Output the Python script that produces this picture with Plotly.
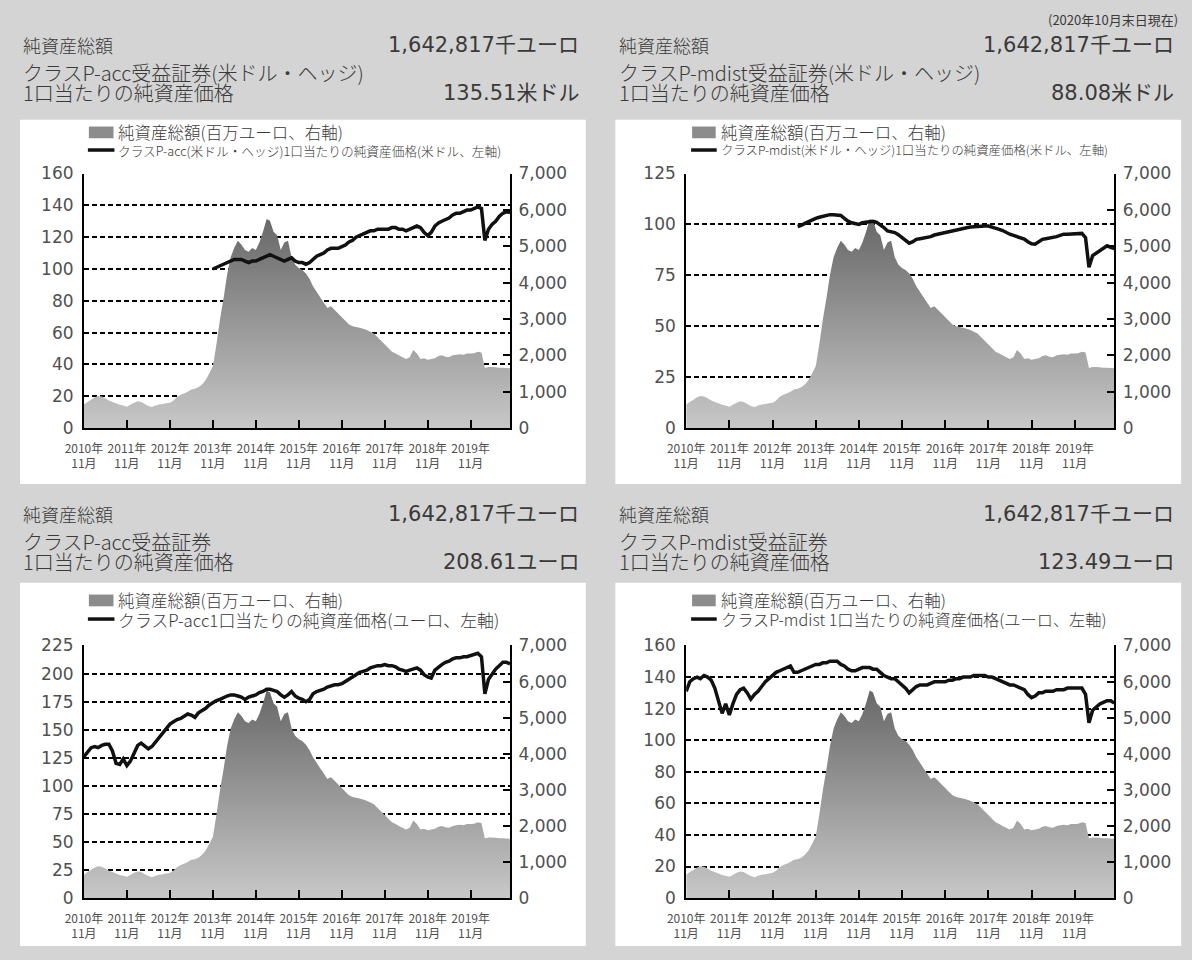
import plotly.graph_objects as go

W, H = 1192, 960

# ---------------- data ----------------
# monthly dates, Nov 2010 .. Oct 2020
months = []
_y, _m = 2010, 11
for _ in range(120):
    months.append(f"{_y}-{_m:02d}-01")
    _m += 1
    if _m > 12:
        _m = 1
        _y += 1

tick_years = [2010, 2011, 2012, 2013, 2014, 2015, 2016, 2017, 2018, 2019]
tick_vals = [f"{yr}-11-01" for yr in tick_years]
tick_text = [f"{yr}年<br>11月" for yr in tick_years]

# total net assets (million EUR, right axis) Nov 2010 .. Oct 2020
aum = (
    [650, 720]
    + [780, 850, 880, 870, 820, 760, 720, 680, 640, 620, 590, 640]          # 2011
    + [700, 740, 720, 660, 610, 580, 620, 650, 660, 680, 700, 760]          # 2012
    + [860, 920, 950, 1000, 1060, 1080, 1120, 1200, 1320, 1500, 1700, 2300]  # 2013
    + [3000, 3600, 4200, 4700, 4950, 5150, 5050, 4900, 4850, 4950, 4900, 5100]  # 2014
    + [5400, 5750, 5700, 5400, 5300, 4900, 5100, 5150, 4700, 4500, 4400, 4350]  # 2015
    + [4250, 4100, 3900, 3750, 3600, 3450, 3300, 3350, 3250, 3150, 3050, 2950]  # 2016
    + [2850, 2800, 2780, 2760, 2730, 2700, 2650, 2600, 2500, 2400, 2300, 2200]  # 2017
    + [2100, 2050, 2000, 1950, 1900, 1950, 2150, 2050, 1900, 1920, 1880, 1900]  # 2018
    + [1920, 1980, 2000, 1960, 1950, 2000, 2020, 2030, 2020, 2050, 2050, 2060]  # 2019
    + [2100, 2080, 1650, 1680, 1680, 1670, 1660, 1660, 1650, 1643]              # 2020
)

# Class P-acc (USD hedged) NAV per unit, from Nov 2013
nav_acc_usd = (
    [None] * 36
    + [100, 101]
    + [102, 103, 104, 105, 106, 106, 106, 105, 104, 105, 105, 106]   # 2014
    + [107, 108, 109, 108, 107, 106, 105, 106, 107, 105, 104, 104]   # 2015
    + [103, 104, 106, 108, 109, 110, 112, 113, 113, 113, 114, 115]   # 2016
    + [117, 118, 120, 121, 122, 123, 124, 124, 125, 125, 125, 125]   # 2017
    + [126, 126, 125, 125, 124, 125, 126, 127, 126, 123, 121, 123]   # 2018
    + [127, 129, 130, 131, 132, 134, 135, 135, 136, 137, 137, 138]   # 2019
    + [139, 138, 118, 125, 128, 130, 133, 135, 136, 135.51]          # 2020
)

# Class P-mdist (USD hedged) NAV per unit, from Jun 2013
nav_mdist_usd = (
    [None] * 31
    + [99, 99.5, 100.5, 101.5, 102.4, 103, 103.5]                                      # 2013
    + [104, 104.4, 104.8, 104.8, 104.6, 104.4, 103, 101.6, 100.8, 100.3, 100, 100.8]   # 2014
    + [101, 101.6, 101.5, 101, 100, 98.5, 96.8, 96.5, 96, 95, 93.5, 92]                # 2015
    + [90.8, 91.5, 92.7, 93, 93.3, 93.5, 94, 94.8, 95.2, 95.8, 96.3, 96.8]             # 2016
    + [97, 97.3, 97.6, 98, 98.4, 98.7, 98.9, 99, 99.1, 99.2, 99.2, 98.8]               # 2017
    + [98.3, 97.6, 97, 96, 95.2, 94.6, 94, 93.5, 92.8, 91.5, 90.5, 90.3]               # 2018
    + [91.5, 92.7, 93, 93.3, 93.5, 94, 94.6, 95.2, 95.2, 95.2, 95.2, 95.4]             # 2019
    + [95.6, 93.5, 79, 84.7, 86, 87, 88.5, 89.5, 88.7, 88.08]                          # 2020
)

# Class P-acc (EUR) NAV per unit
nav_acc_eur = (
    [126, 130]
    + [134, 135, 134, 136, 137, 137, 131, 120, 119, 124, 118, 122]   # 2011
    + [130, 136, 138, 135, 133, 135, 139, 143, 147, 151, 155, 157]   # 2012
    + [159, 160, 162, 164, 163, 161, 165, 167, 169, 172, 174, 176]   # 2013
    + [177, 179, 180, 181, 181, 180, 179, 177, 179, 180, 181, 183]   # 2014
    + [184, 186, 186, 185, 184, 181, 179, 181, 184, 180, 178, 177]   # 2015
    + [175, 177, 182, 184, 185, 186, 188, 189, 190, 190, 191, 193]   # 2016
    + [195, 197, 199, 201, 202, 203, 205, 206, 207, 207, 208, 207]   # 2017
    + [207, 206, 204, 203, 202, 203, 204, 205, 203, 199, 197, 196]   # 2018
    + [203, 206, 208, 210, 211, 213, 214, 214, 215, 215, 216, 217]   # 2019
    + [218, 215, 182, 195, 200, 204, 207, 210, 210, 208.61]          # 2020
)

# Class P-mdist (EUR) NAV per unit
nav_mdist_eur = (
    [131, 137]
    + [139, 140, 139, 141, 140, 138, 133, 124, 117, 123, 116, 123]   # 2011
    + [129, 132, 133, 130, 126, 129, 131, 134, 137, 139, 141, 143]   # 2012
    + [144, 145, 146, 147, 143, 143, 144, 145, 146, 147, 148, 148]   # 2013
    + [149, 149, 150, 150, 150, 148, 147, 145, 144, 144, 145, 146]   # 2014
    + [146, 146, 145, 145, 143, 141, 140, 139, 139, 137, 135, 133]   # 2015
    + [130, 132, 134, 135, 135, 135, 136, 137, 137, 137, 137, 138]   # 2016
    + [138, 139, 139, 140, 140, 140, 141, 141, 141, 141, 140, 140]   # 2017
    + [139, 138, 137, 136, 135, 135, 134, 133, 132, 129, 127, 128]   # 2018
    + [130, 130, 131, 131, 131, 132, 132, 132, 133, 133, 133, 133]   # 2019
    + [133, 129, 111, 119, 121, 123, 124, 125, 125, 123.49]          # 2020
)

aum_total_text = "1,642,817千ユーロ"
date_note = "(2020年10月末日現在)"
class_titles = ["クラスP-acc受益証券(米ドル・ヘッジ)", "クラスP-mdist受益証券(米ドル・ヘッジ)",
                "クラスP-acc受益証券", "クラスP-mdist受益証券"]
nav_texts = ["135.51米ドル", "88.08米ドル", "208.61ユーロ", "123.49ユーロ"]
legend_area = "純資産総額(百万ユーロ、右軸)"
legend_lines = ["クラスP-acc(米ドル・ヘッジ)1口当たりの純資産価格(米ドル、左軸)",
                "クラスP-mdist(米ドル・ヘッジ)1口当たりの純資産価格(米ドル、左軸)",
                "クラスP-acc1口当たりの純資産価格(ユーロ、左軸)",
                "クラスP-mdist 1口当たりの純資産価格(ユーロ、左軸)"]
left_ranges = [(160, 20), (125, 25), (225, 25), (160, 20)]
navs = [nav_acc_usd, nav_mdist_usd, nav_acc_eur, nav_mdist_eur]

# ---------------- layout geometry (pixels) ----------------
JP = "Noto Sans CJK JP"
NUMF = "DejaVu Sans, Noto Sans CJK JP"
TXT = "#3a3a3a"
TICKC = "#505050"

geo = [
    dict(box=(1, 112, 576, 484), plot=(66, 167, 499, 427), hx=(3, 570), hy=(36, 64, 84),
         lx=(71, 96, 100), ly=(125, 143), l2size=12.7),
    dict(box=(606, 112, 1181, 484), plot=(678, 167, 1113, 427), hx=(609, 1175), hy=(36, 64, 84),
         lx=(684, 708, 712), ly=(125, 143), l2size=12.4),
    dict(box=(1, 585, 576, 956), plot=(66, 649, 499, 907), hx=(3, 570), hy=(515, 543, 563),
         lx=(71, 96, 100), ly=(603, 622), l2size=16.9),
    dict(box=(606, 585, 1181, 956), plot=(678, 649, 1113, 907), hx=(609, 1175), hy=(515, 543, 563),
         lx=(684, 708, 712), ly=(603, 622), l2size=16.2),
]


def fx(px):
    return px / W


def fy(py):
    return 1 - py / H


fig = go.Figure()
shapes = []
annotations = []
layout_axes = {}

for i, g in enumerate(geo):
    xid = "x" if i == 0 else f"x{i + 1}"
    ya_n = 2 * i + 1
    yl_n = 2 * i + 2
    ya_id = "y" if ya_n == 1 else f"y{ya_n}"
    yl_id = f"y{yl_n}"

    fig.add_trace(go.Scatter(
        x=months, y=aum, xaxis=xid, yaxis=ya_id, mode="none", fill="tozeroy",
        fillgradient=dict(type="vertical", start=0, stop=5900,
                          colorscale=[[0, "#cacaca"], [1, "#666666"]]),
        showlegend=False, hoverinfo="skip"))
    fig.add_trace(go.Scatter(
        x=months, y=navs[i], xaxis=xid, yaxis=yl_id, mode="lines",
        line=dict(color="#111111", width=3.5), showlegend=False))

    x0, y0, x1, y1 = g["plot"]
    lmax, lstep = left_ranges[i]
    xkey = "xaxis" if i == 0 else f"xaxis{i + 1}"
    yakey = "yaxis" if ya_n == 1 else f"yaxis{ya_n}"
    ylkey = f"yaxis{yl_n}"

    layout_axes[xkey] = dict(
        domain=[fx(x0), fx(x1)], anchor=ya_id, type="date",
        range=[months[0], months[-1]], tickmode="array", tickvals=tick_vals, ticktext=tick_text,
        ticks="inside", ticklen=8, tickwidth=2, tickcolor="black", tickangle=0,
        showline=True, linecolor="black", linewidth=2, showgrid=False, zeroline=False,
        tickfont=dict(family=JP, size=12, color=TICKC), ticklabelstandoff=8, fixedrange=True)
    layout_axes[yakey] = dict(
        domain=[fy(y1), fy(y0)], anchor=xid, side="right", range=[0, 7000], dtick=1000,
        tickformat=",d", ticks="inside", ticklen=7, tickwidth=2, tickcolor="black",
        showline=True, linecolor="black", linewidth=2, showgrid=False, zeroline=False,
        tickfont=dict(family=NUMF, size=17, color=TICKC), ticklabelstandoff=3, fixedrange=True)
    layout_axes[ylkey] = dict(
        overlaying=ya_id, anchor=xid, side="left", range=[0, lmax], dtick=lstep,
        ticks="", showline=True, linecolor="black", linewidth=2,
        showgrid=True, gridcolor="black", gridwidth=1.5, griddash="5px,3px", zeroline=False,
        tickfont=dict(family=NUMF, size=17, color=TICKC), ticklabelstandoff=5, fixedrange=True)

    # white panel
    bx0, by0, bx1, by1 = g["box"]
    shapes.append(dict(type="rect", xref="paper", yref="paper", x0=fx(bx0), x1=fx(bx1),
                       y0=fy(by1), y1=fy(by0), fillcolor="white", line=dict(width=0), layer="below"))

    # headers
    hxl, hxr = g["hx"]
    hy1, hy2, hy3 = g["hy"]
    annotations += [
        dict(text="純資産総額", x=fx(hxl), y=fy(hy1), xanchor="left",
             font=dict(family=JP, size=18, color=TXT, weight=300)),
        dict(text=aum_total_text, x=fx(hxr), y=fy(hy1), xanchor="right",
             font=dict(family=NUMF, size=21, color=TXT)),
        dict(text=class_titles[i], x=fx(hxl), y=fy(hy2), xanchor="left",
             font=dict(family=JP, size=20, color=TXT, weight=300)),
        dict(text="1口当たりの純資産価格", x=fx(hxl), y=fy(hy3), xanchor="left",
             font=dict(family=JP, size=20, color=TXT, weight=300)),
        dict(text=nav_texts[i], x=fx(hxr), y=fy(hy3 + 1), xanchor="right",
             font=dict(family=NUMF, size=21, color=TXT)),
    ]

    # legend
    sx0, sx1, tx = g["lx"]
    ly1, ly2 = g["ly"]
    shapes.append(dict(type="rect", xref="paper", yref="paper", x0=fx(sx0), x1=fx(sx1),
                       y0=fy(ly1 + 6), y1=fy(ly1 - 6), fillcolor="#8c8c8c", line=dict(width=0)))
    shapes.append(dict(type="line", xref="paper", yref="paper", x0=fx(sx0 - 1), x1=fx(sx1 + 1),
                       y0=fy(ly2), y1=fy(ly2), line=dict(color="#111111", width=3.5)))
    annotations += [
        dict(text=legend_area, x=fx(tx), y=fy(ly1), xanchor="left",
             font=dict(family=JP, size=16.5, color=TXT, weight=300)),
        dict(text=legend_lines[i], x=fx(tx), y=fy(ly2), xanchor="left",
             font=dict(family=JP, size=g["l2size"], color=TXT, weight=300)),
    ]

annotations.append(dict(text=date_note, x=fx(1179), y=fy(10), xanchor="right",
                        font=dict(family=JP, size=13, color=TXT)))
for a in annotations:
    a.update(xref="paper", yref="paper", yanchor="middle", showarrow=False, borderpad=0)

fig.update_layout(
    width=W, height=H, margin=dict(l=0, r=0, t=0, b=0, pad=0),
    paper_bgcolor="#d4d4d4", plot_bgcolor="rgba(0,0,0,0)",
    showlegend=False, shapes=shapes, annotations=annotations, **layout_axes)

fig.write_html(
    "out.html",
    config={"displayModeBar": False},
    post_script="document.body.style.margin='0px';document.body.style.overflow='hidden';",
)
